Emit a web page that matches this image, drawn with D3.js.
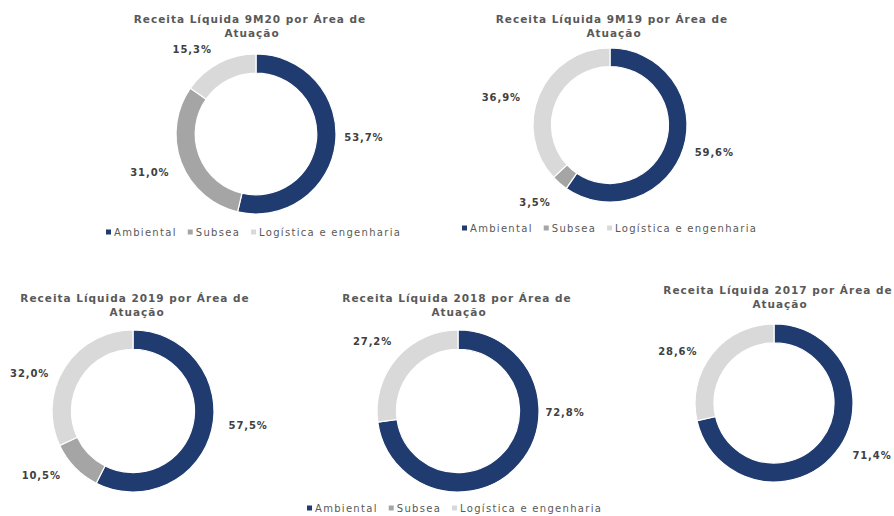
<!DOCTYPE html>
<html>
<head>
<meta charset="utf-8">
<script src="https://cdn.jsdelivr.net/npm/d3@7/dist/d3.min.js"></script>
<style>
  html, body { margin: 0; padding: 0; background: #ffffff; }
  svg { display: block; font-family: "DejaVu Sans", Verdana, sans-serif; }
</style>
</head>
<body>
<svg id="chart" width="894" height="516"></svg>
<script>
// Revenue split by business area (percent of net revenue)
const categories = ["Ambiental", "Subsea", "Logística e engenharia"];
const periods = ["9M20", "9M19", "2019", "2018", "2017"];
const share9M20 = [53.7, 31.0, 15.3];
const share9M19 = [59.6, 3.5, 36.9];
const share2019 = [57.5, 10.5, 32.0];
const share2018 = [72.8, 0, 27.2];
const share2017 = [71.4, 0, 28.6];
const shares = [share9M20, share9M19, share2019, share2018, share2017];

const colors = ["#203b6f", "#a5a5a5", "#d9d9d9"];

// Panel layout: donut centre/radius, title anchor, label placement (polar, degrees clockwise from 12 o'clock)
const panels = [
  { cx: 256, cy: 134, r: 80, tx: 250, ty: 19, labels: [[92, 108], [250, 113], [323, 106]] },
  { cx: 610, cy: 125, r: 77, tx: 612, ty: 19, labels: [[105, 108], [224, 108], [284, 112]] },
  { cx: 133, cy: 411, r: 81, tx: 135, ty: 298, labels: [[97, 116], [235, 112], [290, 110]] },
  { cx: 458, cy: 411, r: 81, tx: 457, ty: 298, labels: [[91, 107], null, [309, 110]] },
  { cx: 774, cy: 403, r: 79, tx: 778, ty: 290, labels: [[118, 111], null, [298, 109]] }
];

// Legends: one under each top chart, one shared under the bottom row
const legends = [
  { x: 106, y: 232 },
  { x: 462, y: 228 },
  { x: 307, y: 508 }
];

const svg = d3.select("#chart");
const fmt = v => d3.format(".1f")(v).replace(".", ",") + "%";
const color = d3.scaleOrdinal().domain(categories).range(colors);

const pie = d3.pie().sort(null).value(d => d.value);

panels.forEach((p, i) => {
  const g = svg.append("g").attr("transform", `translate(${p.cx},${p.cy})`);
  const data = categories.map((c, k) => ({ cat: c, value: shares[i][k], idx: k }));
  const arcs = pie(data);
  const arc = d3.arc().innerRadius(p.r * 0.76).outerRadius(p.r);

  g.selectAll("path")
    .data(arcs.filter(a => a.data.value > 0))
    .join("path")
    .attr("d", arc)
    .attr("fill", d => color(d.data.cat))
    .attr("stroke", "#ffffff")
    .attr("stroke-width", 1.2);

  arcs.forEach(a => {
    const pos = p.labels[a.data.idx];
    if (!pos || a.data.value <= 0) return;
    const th = pos[0] * Math.PI / 180;
    g.append("text")
      .attr("x", pos[1] * Math.sin(th))
      .attr("y", -pos[1] * Math.cos(th))
      .attr("text-anchor", "middle")
      .attr("dominant-baseline", "central")
      .attr("font-size", 10)
      .attr("letter-spacing", 0.9)
      .attr("font-weight", "bold")
      .attr("fill", "#404040")
      .text(fmt(a.data.value));
  });

  const title = svg.append("text")
    .attr("x", p.tx)
    .attr("y", p.ty)
    .attr("text-anchor", "middle")
    .attr("dominant-baseline", "central")
    .attr("font-size", 10.5)
    .attr("letter-spacing", 1)
    .attr("font-weight", "bold")
    .attr("fill", "#595959");
  title.append("tspan").attr("x", p.tx).text(`Receita Líquida ${periods[i]} por Área de`);
  title.append("tspan").attr("x", p.tx + 2).attr("dy", 14).text("Atuação");
});

legends.forEach(l => {
  const lg = svg.append("g").attr("transform", `translate(${l.x},${l.y})`);
  let x = 0;
  categories.forEach(c => {
    lg.append("rect")
      .attr("x", x).attr("y", -2.5)
      .attr("width", 5).attr("height", 5)
      .attr("fill", color(c));
    const t = lg.append("text")
      .attr("x", x + 8)
      .attr("y", 0)
      .attr("dominant-baseline", "central")
      .attr("font-size", 10)
      .attr("letter-spacing", 1.3)
      .attr("fill", "#595959")
      .text(c);
    x += 8 + t.node().getComputedTextLength() + 11;
  });
});
</script>
</body>
</html>
